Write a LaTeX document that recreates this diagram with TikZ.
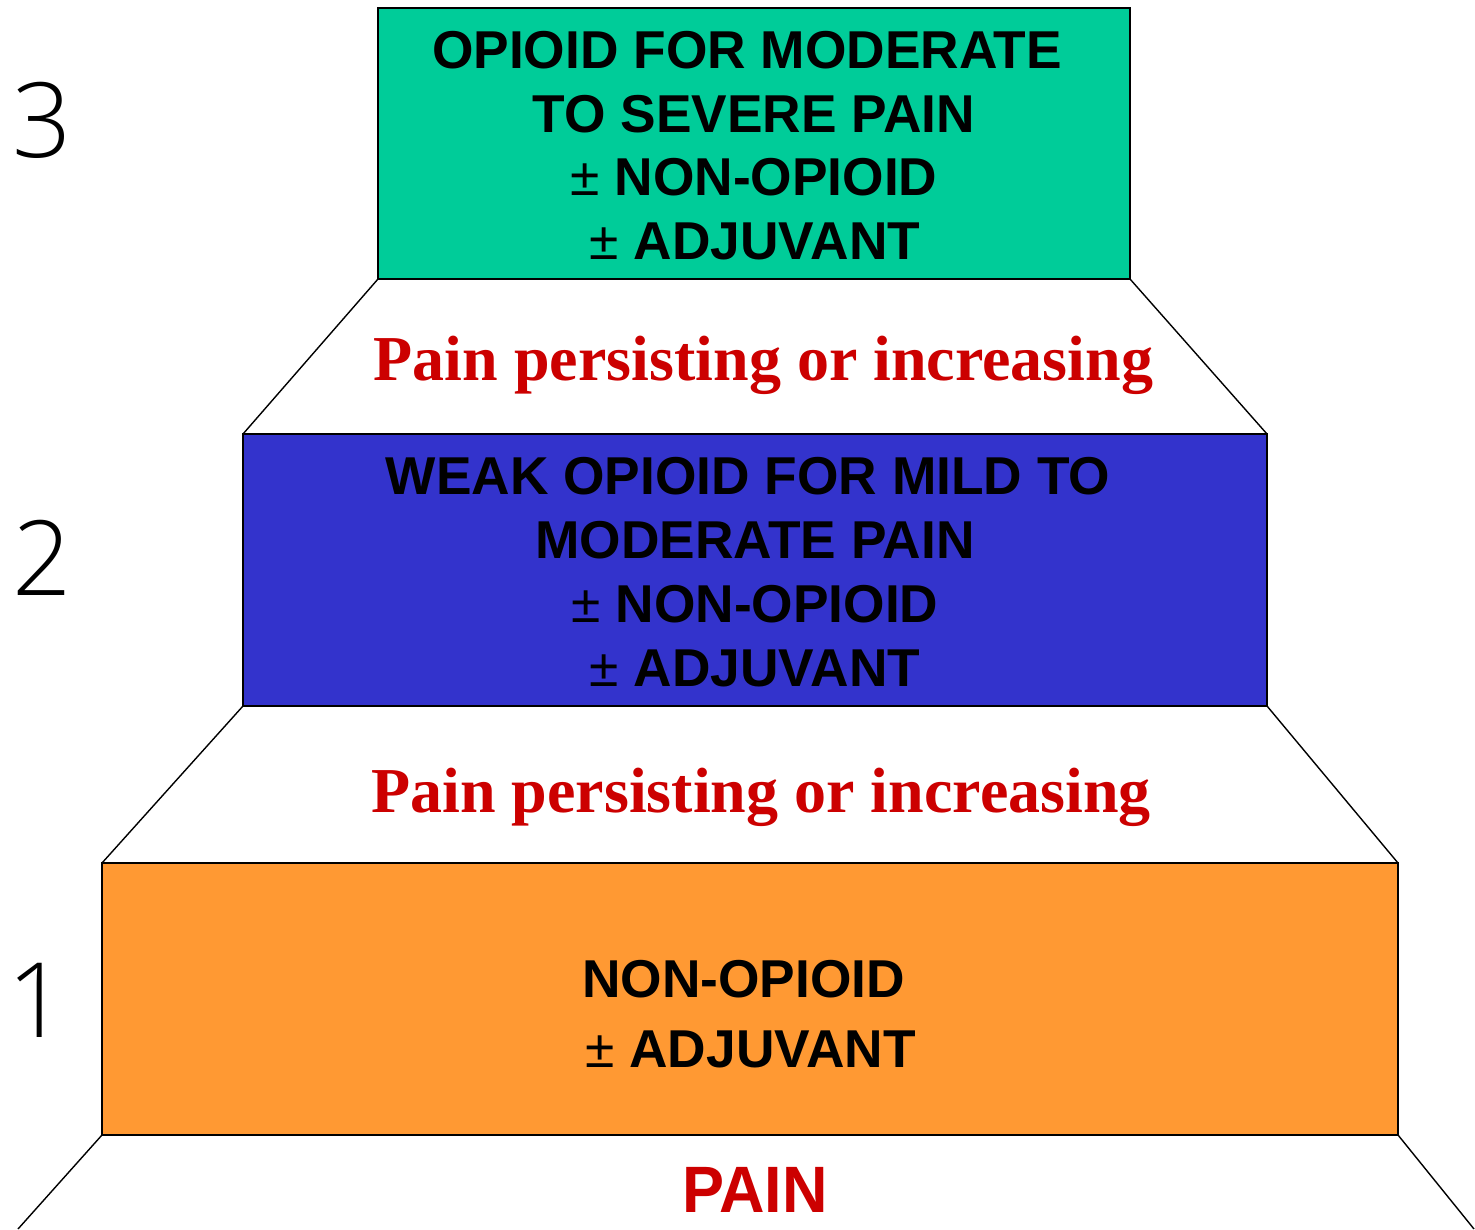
\documentclass[tikz,border=0pt]{standalone}
\usepackage{fontspec}
\setmainfont{Liberation Serif}
\newfontfamily\boxfont{Liberation Sans}
\newfontfamily\numfont{Open Sans Light}
\definecolor{tealc}{HTML}{00CC99}
\definecolor{bluec}{HTML}{3333CC}
\definecolor{orangec}{HTML}{FF9933}
\definecolor{redc}{HTML}{CC0000}
\begin{document}
\begin{tikzpicture}[x=1pt,y=-1pt,
  stepbox/.style={draw=black,line width=1.8pt,inner sep=0pt,outer sep=0pt,rectangle},
  side/.style={draw=black,line width=1.4pt},
  btxt/.style={inner sep=0pt,anchor=base,font=\boxfont\bfseries\fontsize{53.3}{64}\selectfont,text=black},
  rtxt/.style={inner sep=0pt,anchor=base,font=\bfseries\fontsize{64}{72}\selectfont,text=redc},
  numtxt/.style={inner sep=0pt,anchor=base,font=\numfont\fontsize{104}{110}\selectfont,text=black}
]
\useasboundingbox (0,0) rectangle (1475,1229);
\fill[white] (0,0) rectangle (1475,1229);

% steps
\node[stepbox,fill=tealc,minimum width=752pt,minimum height=271pt] (b3) at (754,143.5) {};
\node[stepbox,fill=bluec,minimum width=1024pt,minimum height=272pt] (b2) at (755,570) {};
\node[stepbox,fill=orangec,minimum width=1296pt,minimum height=272pt] (b1) at (750,999) {};

\coordinate (bl) at (18,1229);
\coordinate (br) at (1474,1229);

% sides
\draw[side] (b3.south west) -- (b2.north west);
\draw[side] (b3.south east) -- (b2.north east);
\draw[side] (b2.south west) -- (b1.north west);
\draw[side] (b2.south east) -- (b1.north east);
\draw[side] (b1.south west) -- (bl);
\draw[side] (b1.south east) -- (br);

% step 3 text
\node[btxt] (t3a) at (747,68) {OPIOID FOR MODERATE};
\node[btxt] (t3b) at (754,132) {TO SEVERE PAIN};
\node[btxt] (t3c) at (754,195) {{\mdseries ±} NON-OPIOID};
\node[btxt] (t3d) at (755,259) {{\mdseries ±} ADJUVANT};

% step 2 text
\node[btxt] (t2a) at (748,494) {WEAK OPIOID FOR MILD TO};
\node[btxt] (t2b) at (755,558) {MODERATE PAIN};
\node[btxt] (t2c) at (755,622) {{\mdseries ±} NON-OPIOID};
\node[btxt] (t2d) at (755,686) {{\mdseries ±} ADJUVANT};

% step 1 text
\node[btxt] (t1a) at (743.5,997) {NON-OPIOID};
\node[btxt] (t1b) at (750.5,1067) {{\mdseries ±} ADJUVANT};

% red labels
\node[rtxt] (r3) at (763.5,380) {Pain persisting or increasing};
\node[rtxt] (r2) at (761,812) {Pain persisting or increasing};
\node[rtxt,font=\boxfont\bfseries\fontsize{65.6}{70}\selectfont,xscale=0.96] (rp) at (755,1212) {PAIN};

% numbers
\node[numtxt] (n3) at (42,157) {3};
\node[numtxt] (n2) at (42,595) {2};
\node[numtxt] (n1) at (37,1037) {1};
\end{tikzpicture}
\end{document}
